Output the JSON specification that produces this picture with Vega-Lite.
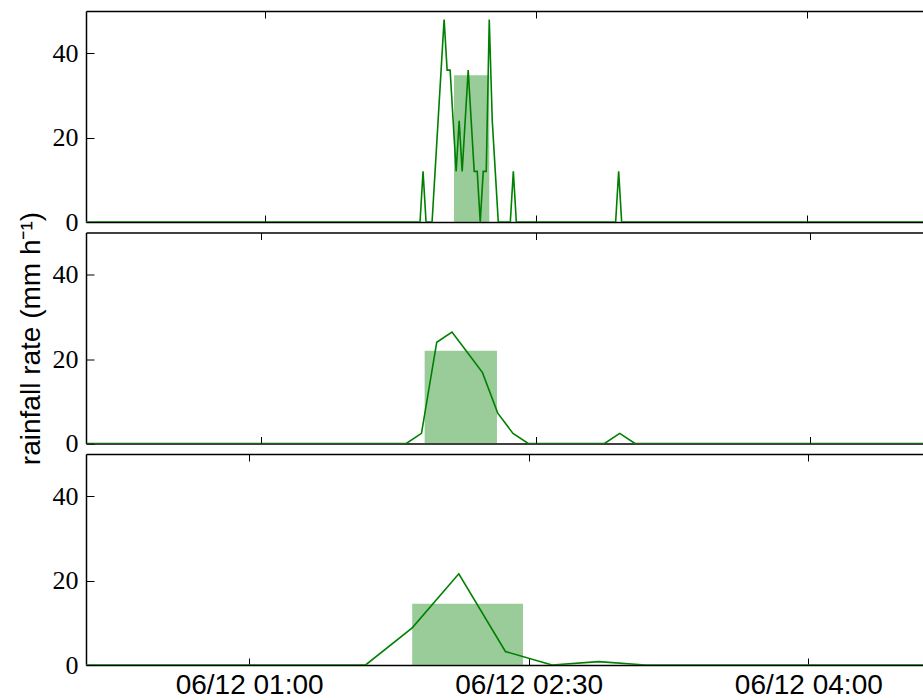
{
  "$schema": "https://vega.github.io/schema/vega-lite/v6.json",
  "padding": {"left": 16, "top": 10, "right": 0, "bottom": 0},
  "bounds": "flush",
  "spacing": 10.5,
  "config": {
    "view": {"stroke": null},
    "axis": {"grid": false, "domainColor": "black", "domainWidth": 1.5, "tickColor": "black", "tickWidth": 1, "labelColor": "black", "titleColor": "black"}
  },
  "datasets": {
    "lines": [
      {"panel": 1, "t": "2016-06-12T00:00:30Z", "rate": 0},
      {"panel": 1, "t": "2016-06-12T01:51:30Z", "rate": 0},
      {"panel": 1, "t": "2016-06-12T01:52:30Z", "rate": 12},
      {"panel": 1, "t": "2016-06-12T01:53:30Z", "rate": 0},
      {"panel": 1, "t": "2016-06-12T01:55:30Z", "rate": 0},
      {"panel": 1, "t": "2016-06-12T01:56:30Z", "rate": 12},
      {"panel": 1, "t": "2016-06-12T01:57:30Z", "rate": 24},
      {"panel": 1, "t": "2016-06-12T01:58:30Z", "rate": 36},
      {"panel": 1, "t": "2016-06-12T01:59:30Z", "rate": 48},
      {"panel": 1, "t": "2016-06-12T02:00:30Z", "rate": 36},
      {"panel": 1, "t": "2016-06-12T02:01:30Z", "rate": 36},
      {"panel": 1, "t": "2016-06-12T02:02:30Z", "rate": 24},
      {"panel": 1, "t": "2016-06-12T02:03:30Z", "rate": 12},
      {"panel": 1, "t": "2016-06-12T02:04:30Z", "rate": 24},
      {"panel": 1, "t": "2016-06-12T02:05:30Z", "rate": 12},
      {"panel": 1, "t": "2016-06-12T02:06:30Z", "rate": 24},
      {"panel": 1, "t": "2016-06-12T02:07:30Z", "rate": 36},
      {"panel": 1, "t": "2016-06-12T02:08:30Z", "rate": 24},
      {"panel": 1, "t": "2016-06-12T02:09:30Z", "rate": 12},
      {"panel": 1, "t": "2016-06-12T02:10:30Z", "rate": 12},
      {"panel": 1, "t": "2016-06-12T02:11:30Z", "rate": 0},
      {"panel": 1, "t": "2016-06-12T02:12:30Z", "rate": 12},
      {"panel": 1, "t": "2016-06-12T02:13:30Z", "rate": 12},
      {"panel": 1, "t": "2016-06-12T02:14:30Z", "rate": 48},
      {"panel": 1, "t": "2016-06-12T02:15:30Z", "rate": 24},
      {"panel": 1, "t": "2016-06-12T02:16:30Z", "rate": 12},
      {"panel": 1, "t": "2016-06-12T02:17:30Z", "rate": 0},
      {"panel": 1, "t": "2016-06-12T02:21:30Z", "rate": 0},
      {"panel": 1, "t": "2016-06-12T02:22:30Z", "rate": 12},
      {"panel": 1, "t": "2016-06-12T02:23:30Z", "rate": 0},
      {"panel": 1, "t": "2016-06-12T02:56:30Z", "rate": 0},
      {"panel": 1, "t": "2016-06-12T02:57:30Z", "rate": 12},
      {"panel": 1, "t": "2016-06-12T02:58:30Z", "rate": 0},
      {"panel": 1, "t": "2016-06-12T04:59:30Z", "rate": 0},
      {"panel": 2, "t": "2016-06-12T00:02:30Z", "rate": 0},
      {"panel": 2, "t": "2016-06-12T01:47:30Z", "rate": 0},
      {"panel": 2, "t": "2016-06-12T01:52:30Z", "rate": 2.4},
      {"panel": 2, "t": "2016-06-12T01:57:30Z", "rate": 24},
      {"panel": 2, "t": "2016-06-12T02:02:30Z", "rate": 26.4},
      {"panel": 2, "t": "2016-06-12T02:07:30Z", "rate": 21.6},
      {"panel": 2, "t": "2016-06-12T02:12:30Z", "rate": 16.8},
      {"panel": 2, "t": "2016-06-12T02:17:30Z", "rate": 7.2},
      {"panel": 2, "t": "2016-06-12T02:22:30Z", "rate": 2.4},
      {"panel": 2, "t": "2016-06-12T02:27:30Z", "rate": 0},
      {"panel": 2, "t": "2016-06-12T02:52:30Z", "rate": 0},
      {"panel": 2, "t": "2016-06-12T02:57:30Z", "rate": 2.4},
      {"panel": 2, "t": "2016-06-12T03:02:30Z", "rate": 0},
      {"panel": 2, "t": "2016-06-12T04:57:30Z", "rate": 0},
      {"panel": 3, "t": "2016-06-12T00:07:30Z", "rate": 0},
      {"panel": 3, "t": "2016-06-12T01:37:30Z", "rate": 0},
      {"panel": 3, "t": "2016-06-12T01:52:30Z", "rate": 8.8},
      {"panel": 3, "t": "2016-06-12T02:07:30Z", "rate": 21.6},
      {"panel": 3, "t": "2016-06-12T02:22:30Z", "rate": 3.2},
      {"panel": 3, "t": "2016-06-12T02:37:30Z", "rate": 0},
      {"panel": 3, "t": "2016-06-12T02:52:30Z", "rate": 0.8},
      {"panel": 3, "t": "2016-06-12T03:07:30Z", "rate": 0},
      {"panel": 3, "t": "2016-06-12T04:52:30Z", "rate": 0}
    ],
    "bars": [
      {"panel": 1, "start": "2016-06-12T02:02:47Z", "end": "2016-06-12T02:14:31Z", "rate": 34.8},
      {"panel": 2, "start": "2016-06-12T01:53:32Z", "end": "2016-06-12T02:17:15Z", "rate": 22},
      {"panel": 3, "start": "2016-06-12T01:52:30Z", "end": "2016-06-12T02:28:10Z", "rate": 14.5}
    ]
  },
  "vconcat": [
    {
      "width": 837, "height": 211,
      "layer": [
        {
          "data": {"name": "bars"},
          "transform": [{"filter": "datum.panel == 1"}],
          "mark": {"type": "rect", "color": "#008000", "opacity": 0.4, "clip": true},
          "encoding": {
            "x": {"field": "start", "type": "temporal",
                  "scale": {"type": "utc", "domain": [{"year": 2016, "month": "jun", "date": 12, "hours": 0, "minutes": 0, "seconds": 30, "utc": true}, {"year": 2016, "month": "jun", "date": 12, "hours": 4, "minutes": 38, "seconds": 38, "utc": true}]},
                  "axis": {"orient": "bottom", "title": null, "labels": false, "tickSize": -7,
                           "values": [{"year": 2016, "month": "jun", "date": 12, "hours": 1, "utc": true}, {"year": 2016, "month": "jun", "date": 12, "hours": 2, "minutes": 30, "utc": true}, {"year": 2016, "month": "jun", "date": 12, "hours": 4, "utc": true}]}},
            "x2": {"field": "end"},
            "y": {"field": "rate", "type": "quantitative", "scale": {"domain": [0, 50], "nice": false},
                  "axis": {"orient": "left", "title": null, "values": [0, 20, 40], "tickSize": -8, "labelPadding": 16, "labelFont": "Liberation Serif", "labelFontSize": 26}},
            "y2": {"datum": 0}
          }
        },
        {
          "data": {"name": "lines"},
          "transform": [{"filter": "datum.panel == 1"}],
          "mark": {"type": "line", "color": "#008000", "strokeWidth": 1.6, "clip": true},
          "encoding": {
            "x": {"field": "t", "type": "temporal",
                  "scale": {"type": "utc", "domain": [{"year": 2016, "month": "jun", "date": 12, "hours": 0, "minutes": 0, "seconds": 30, "utc": true}, {"year": 2016, "month": "jun", "date": 12, "hours": 4, "minutes": 38, "seconds": 38, "utc": true}]},
                  "axis": {"orient": "top", "title": null, "labels": false, "tickSize": -7,
                           "values": [{"year": 2016, "month": "jun", "date": 12, "hours": 1, "utc": true}, {"year": 2016, "month": "jun", "date": 12, "hours": 2, "minutes": 30, "utc": true}, {"year": 2016, "month": "jun", "date": 12, "hours": 4, "utc": true}]}},
            "y": {"field": "rate", "type": "quantitative", "scale": {"domain": [0, 50], "nice": false},
                  "axis": {"orient": "left", "title": null, "values": [0, 20, 40], "tickSize": -8, "labelPadding": 16, "labelFont": "Liberation Serif", "labelFontSize": 26}}
          }
        }
      ],
      "resolve": {"axis": {"x": "independent"}}
    },
    {
      "width": 837, "height": 211,
      "layer": [
        {
          "data": {"name": "bars"},
          "transform": [{"filter": "datum.panel == 2"}],
          "mark": {"type": "rect", "color": "#008000", "opacity": 0.4, "clip": true},
          "encoding": {
            "x": {"field": "start", "type": "temporal",
                  "scale": {"type": "utc", "domain": [{"year": 2016, "month": "jun", "date": 12, "hours": 0, "minutes": 2, "seconds": 30, "utc": true}, {"year": 2016, "month": "jun", "date": 12, "hours": 4, "minutes": 36, "seconds": 56, "utc": true}]},
                  "axis": {"orient": "bottom", "title": null, "labels": false, "tickSize": -7,
                           "values": [{"year": 2016, "month": "jun", "date": 12, "hours": 1, "utc": true}, {"year": 2016, "month": "jun", "date": 12, "hours": 2, "minutes": 30, "utc": true}, {"year": 2016, "month": "jun", "date": 12, "hours": 4, "utc": true}]}},
            "x2": {"field": "end"},
            "y": {"field": "rate", "type": "quantitative", "scale": {"domain": [0, 50], "nice": false},
                  "axis": {"orient": "left", "title": "rainfall rate (mm h⁻¹)", "titleFont": "Liberation Sans", "titleFontSize": 28, "titleFontWeight": "normal", "titleBaseline": "alphabetic", "titleX": -47, "titleY": 105.5, "titleAngle": 270, "titleAlign": "center", "values": [0, 20, 40], "tickSize": -8, "labelPadding": 16, "labelFont": "Liberation Serif", "labelFontSize": 26}},
            "y2": {"datum": 0}
          }
        },
        {
          "data": {"name": "lines"},
          "transform": [{"filter": "datum.panel == 2"}],
          "mark": {"type": "line", "color": "#008000", "strokeWidth": 1.6, "clip": true},
          "encoding": {
            "x": {"field": "t", "type": "temporal",
                  "scale": {"type": "utc", "domain": [{"year": 2016, "month": "jun", "date": 12, "hours": 0, "minutes": 2, "seconds": 30, "utc": true}, {"year": 2016, "month": "jun", "date": 12, "hours": 4, "minutes": 36, "seconds": 56, "utc": true}]},
                  "axis": {"orient": "top", "title": null, "labels": false, "tickSize": -7,
                           "values": [{"year": 2016, "month": "jun", "date": 12, "hours": 1, "utc": true}, {"year": 2016, "month": "jun", "date": 12, "hours": 2, "minutes": 30, "utc": true}, {"year": 2016, "month": "jun", "date": 12, "hours": 4, "utc": true}]}},
            "y": {"field": "rate", "type": "quantitative", "scale": {"domain": [0, 50], "nice": false},
                  "axis": {"orient": "left", "title": "rainfall rate (mm h⁻¹)", "titleFont": "Liberation Sans", "titleFontSize": 28, "titleFontWeight": "normal", "titleBaseline": "alphabetic", "titleX": -47, "titleY": 105.5, "titleAngle": 270, "titleAlign": "center", "values": [0, 20, 40], "tickSize": -8, "labelPadding": 16, "labelFont": "Liberation Serif", "labelFontSize": 26}}
          }
        }
      ],
      "resolve": {"axis": {"x": "independent"}}
    },
    {
      "width": 837, "height": 211,
      "layer": [
        {
          "data": {"name": "bars"},
          "transform": [{"filter": "datum.panel == 3"}],
          "mark": {"type": "rect", "color": "#008000", "opacity": 0.4, "clip": true},
          "encoding": {
            "x": {"field": "start", "type": "temporal",
                  "scale": {"type": "utc", "domain": [{"year": 2016, "month": "jun", "date": 12, "hours": 0, "minutes": 7, "seconds": 30, "utc": true}, {"year": 2016, "month": "jun", "date": 12, "hours": 4, "minutes": 36, "seconds": 55, "utc": true}]},
                  "axis": {"orient": "bottom", "title": null, "labels": true, "tickSize": -7, "format": "%m/%d %H:%M", "labelFont": "Liberation Sans", "labelFontSize": 28, "labelPadding": 13, "labelFlush": false, "labelOverlap": false,
                           "values": [{"year": 2016, "month": "jun", "date": 12, "hours": 1, "utc": true}, {"year": 2016, "month": "jun", "date": 12, "hours": 2, "minutes": 30, "utc": true}, {"year": 2016, "month": "jun", "date": 12, "hours": 4, "utc": true}]}},
            "x2": {"field": "end"},
            "y": {"field": "rate", "type": "quantitative", "scale": {"domain": [0, 50], "nice": false},
                  "axis": {"orient": "left", "title": null, "values": [0, 20, 40], "tickSize": -8, "labelPadding": 16, "labelFont": "Liberation Serif", "labelFontSize": 26}},
            "y2": {"datum": 0}
          }
        },
        {
          "data": {"name": "lines"},
          "transform": [{"filter": "datum.panel == 3"}],
          "mark": {"type": "line", "color": "#008000", "strokeWidth": 1.6, "clip": true},
          "encoding": {
            "x": {"field": "t", "type": "temporal",
                  "scale": {"type": "utc", "domain": [{"year": 2016, "month": "jun", "date": 12, "hours": 0, "minutes": 7, "seconds": 30, "utc": true}, {"year": 2016, "month": "jun", "date": 12, "hours": 4, "minutes": 36, "seconds": 55, "utc": true}]},
                  "axis": {"orient": "top", "title": null, "labels": false, "tickSize": -7,
                           "values": [{"year": 2016, "month": "jun", "date": 12, "hours": 1, "utc": true}, {"year": 2016, "month": "jun", "date": 12, "hours": 2, "minutes": 30, "utc": true}, {"year": 2016, "month": "jun", "date": 12, "hours": 4, "utc": true}]}},
            "y": {"field": "rate", "type": "quantitative", "scale": {"domain": [0, 50], "nice": false},
                  "axis": {"orient": "left", "title": null, "values": [0, 20, 40], "tickSize": -8, "labelPadding": 16, "labelFont": "Liberation Serif", "labelFontSize": 26}}
          }
        }
      ],
      "resolve": {"axis": {"x": "independent"}}
    }
  ]
}
